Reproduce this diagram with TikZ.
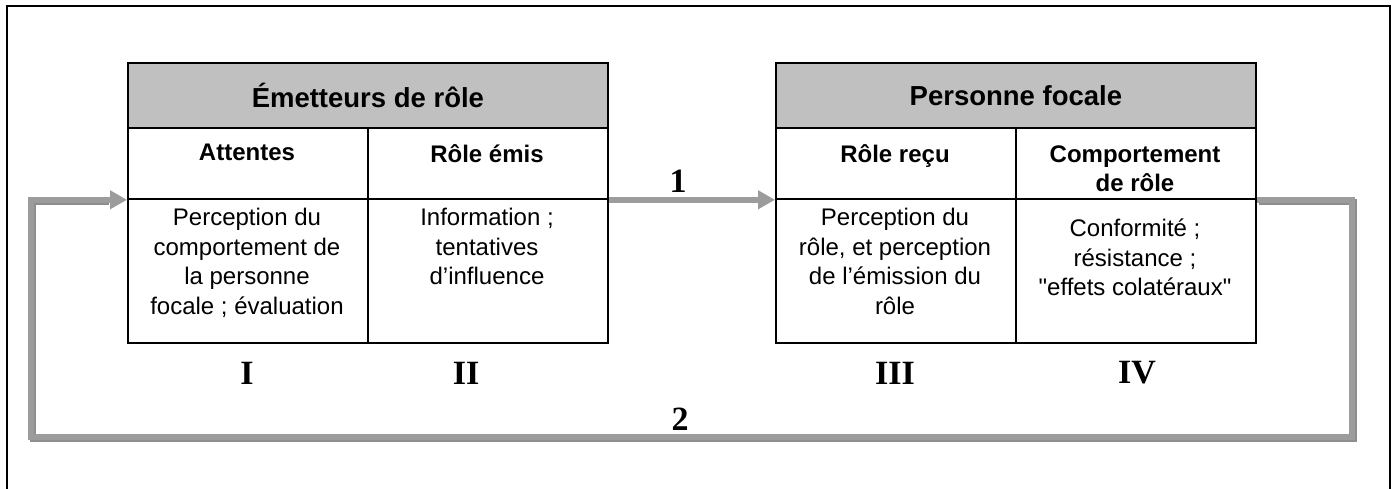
\documentclass[tikz,border=0pt]{standalone}
\usepackage{fontspec}
\setmainfont{Liberation Sans}
\newfontfamily\numfont{Liberation Serif}
\usetikzlibrary{arrows.meta}
\definecolor{hdrgray}{HTML}{C0C0C0}
\definecolor{arrgray}{HTML}{9C9C9C}
\definecolor{shadgray}{HTML}{8E8E8E}
\begin{document}
\begin{tikzpicture}[x=1pt,y=-1pt,
  cellbox/.style={draw=black,line width=1.8pt,minimum width=240pt,inner sep=0pt,anchor=north west},
  hdrbox/.style={draw=black,line width=1.8pt,fill=hdrgray,minimum width=480pt,minimum height=65pt,inner sep=0pt,anchor=north west,
    font=\fontsize{27.5}{32}\selectfont\bfseries},
  headtxt/.style={font=\fontsize{24}{29}\selectfont\bfseries,align=center,anchor=north,inner sep=0pt},
  bodytxt/.style={font=\fontsize{24}{29.5}\selectfont,align=center,anchor=north,inner sep=0pt},
  numtxt/.style={font=\fontsize{34}{36}\selectfont\numfont\bfseries,inner sep=0pt},
  flow/.style={draw=arrgray,line width=6pt},
  shadow/.style={draw=shadgray,line width=6pt,transform canvas={shift={(2pt,-2pt)}}},
  tip/.style={-{Triangle[length=17pt,width=18pt]}}
]
\useasboundingbox (0,0) rectangle (1396,488);
% outer frame
\draw[line width=2pt] (7,500) -- (7,6) -- (1390,6) -- (1390,500);

% left table
\node[hdrbox] (eh) at (127,62) {Émetteurs de rôle};
\node[cellbox,minimum height=71pt] (eL1) at (127,127) {};
\node[cellbox,minimum height=71pt] (eR1) at (367,127) {};
\node[cellbox,minimum height=144pt] (eL2) at (127,198) {};
\node[cellbox,minimum height=144pt] (eR2) at (367,198) {};

% right table
\node[hdrbox] (ph) at (775,62) {Personne focale};
\node[cellbox,minimum height=71pt] (pL1) at (775,127) {};
\node[cellbox,minimum height=71pt] (pR1) at (1015,127) {};
\node[cellbox,minimum height=144pt] (pL2) at (775,198) {};
\node[cellbox,minimum height=144pt] (pR2) at (1015,198) {};

% heading texts
\node[headtxt] (tA) at (247,144) {Attentes};
\node[headtxt] (tB) at (487,144) {Rôle émis};
\node[headtxt] (tC) at (895,144) {Rôle reçu};
\node[headtxt] (tD) at (1135,146) {Comportement\\de rôle};

% body texts
\node[bodytxt] (bA) at (247,208) {Perception du\\comportement de\\la personne\\focale ; évaluation};
\node[bodytxt] (bB) at (487,208) {Information ;\\tentatives\\d’influence};
\node[bodytxt] (bC) at (895,208) {Perception du\\rôle, et perception\\de l’émission du\\rôle};
\node[bodytxt] (bD) at (1135,219) {Conformité ;\\résistance ;\\\textquotedbl effets colatéraux\textquotedbl};

% numerals
\node[numtxt] (n1) at (247,373) {I};
\node[numtxt] (n2) at (466,373) {II};
\node[numtxt] (n3) at (895,373) {III};
\node[numtxt] (n4) at (1137,373) {IV};

% connectors
\coordinate (lr) at (1352,437);
\coordinate (ll) at (31,437);
\draw[shadow] (pR1.south east) -| (lr) -- (ll) |- ([xshift=-20pt]eL1.south west);
\draw[flow,tip] (eR1.south east) -- (pL1.south west);
\draw[flow,tip] (pR1.south east) -| (lr) -- (ll) |- (eL1.south west);
\node[numtxt] (c1) at (678,181) {1};
\node[numtxt] (c2) at (680,419) {2};
\end{tikzpicture}
\end{document}
